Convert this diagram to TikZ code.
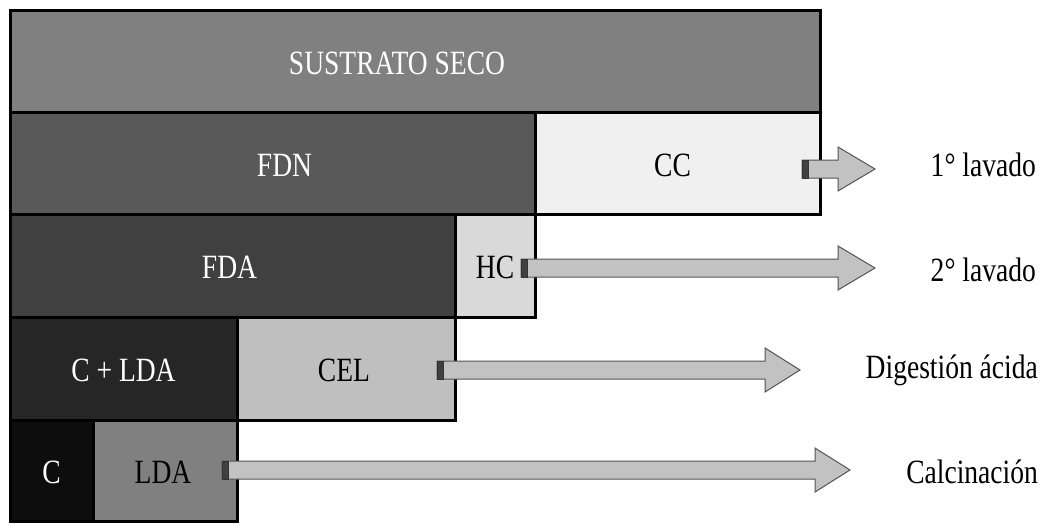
\documentclass[tikz,border=0pt]{standalone}
\usepackage{fontspec}
\setmainfont{Liberation Serif}[FakeStretch=0.81]
\usetikzlibrary{calc}
\definecolor{cSS}{gray}{0.50}
\definecolor{cFDN}{gray}{0.35}
\definecolor{cCC}{gray}{0.94}
\definecolor{cFDA}{gray}{0.25}
\definecolor{cHC}{gray}{0.85}
\definecolor{cCLDA}{gray}{0.15}
\definecolor{cCEL}{gray}{0.75}
\definecolor{cC}{gray}{0.05}
\definecolor{cLDA}{gray}{0.50}
\definecolor{arrfill}{gray}{0.76}
\definecolor{arrline}{gray}{0.33}
\definecolor{arrblock}{gray}{0.25}
\newcommand\mybox[9]{%
  \node[boxstyle, fill=#6, text=#7, minimum width={(#4-#2)*1pt}, minimum height={(#5-#3)*1pt}]
    (#1) at ({(#2+#4)/2},{-(#3+#5)/2}) {};
  \node[boxtext, text=#7] at ($(#1.center)+(#9,-2)$) {#8};}
\newcommand\myarrow[5]{% name, start x, y, head x, tip x
  \path[arrstyle] (#2,{-#3+9}) -- (#4,{-#3+9}) -- (#4,{-#3+22}) -- (#5,-#3)
    -- (#4,{-#3-22}) -- (#4,{-#3-9}) -- (#2,{-#3-9}) -- cycle;
  \path[draw=black!80, line width=0.8pt, fill=arrblock] (#2,{-#3-9}) rectangle ({#2+6},{-#3+9});
  \coordinate (#1) at (#5,-#3);}
\begin{document}
\begin{tikzpicture}[x=1pt,y=1pt,
  boxstyle/.style={draw=black, line width=3pt, inner sep=0pt},
  boxtext/.style={inner sep=0pt, font=\fontsize{34}{40}\selectfont},
  arrstyle/.style={fill=arrfill, draw=arrline, line width=1pt, line join=miter},
  lbl/.style={anchor=east, inner sep=0pt, font=\fontsize{34}{40}\selectfont}]
\path[fill=white] (0,0) rectangle (1049,-525);
\useasboundingbox (0,0) rectangle (1049,-525);
\mybox{ss}{10}{10}{820}{112}{cSS}{white}{SUSTRATO SECO}{-18}
\mybox{fdn}{10}{112}{535}{214}{cFDN}{white}{FDN}{12}
\mybox{cc}{535}{112}{820}{214}{cCC}{black}{CC}{-5}
\mybox{fda}{10}{214}{455}{317}{cFDA}{white}{FDA}{-3}
\mybox{hc}{455}{214}{535}{317}{cHC}{black}{HC}{0}
\mybox{clda}{10}{317}{237}{420}{cCLDA}{white}{C + LDA}{0}
\mybox{cel}{237}{317}{455}{420}{cCEL}{black}{CEL}{-2}
\mybox{c}{10}{420}{93}{521}{cC}{white}{C}{0}
\mybox{lda}{93}{420}{237}{521}{cLDA}{black}{LDA}{-2}
\myarrow{a1}{802}{169}{838}{875}
\myarrow{a2}{521}{268}{838}{875}
\myarrow{a3}{437}{370}{765}{800}
\myarrow{a4}{222}{470}{815}{850}
\node[lbl] (l1) at (1036,-165) {1° lavado};
\node[lbl] (l2) at (1036,-270) {2° lavado};
\node[lbl] (l3) at (1038,-370) {Digestión ácida};
\node[lbl] (l4) at (1038,-472) {Calcinación};
\end{tikzpicture}
\end{document}
